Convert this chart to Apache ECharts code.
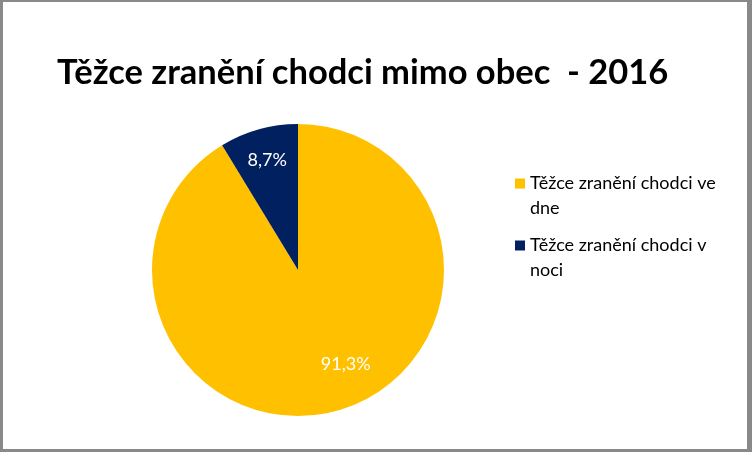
<!DOCTYPE html>
<html>
<head>
<meta charset="utf-8">
<script src="https://cdn.jsdelivr.net/npm/echarts@6/dist/echarts.min.js"></script>
<style>
  html, body { margin: 0; padding: 0; background: #fff; }
  #chart { position: absolute; left: 0; top: 0; width: 752px; height: 452px; }
  #frame { position: absolute; left: 0; top: 0; width: 752px; height: 452px; box-sizing: border-box;
           border-style: solid; border-color: #898989; border-width: 2px 5px 3px 3px; pointer-events: none; }
</style>
</head>
<body>
<div id="chart"></div>
<div id="frame"></div>
<script>
// data
var titleText = 'Těžce zranění chodci mimo obec  - 2016';
var categories = ['Těžce zranění chodci ve dne', 'Těžce zranění chodci v noci'];
var values = [91.3, 8.7];
var colors = ['#FFC000', '#002060'];

var pieData = [];
for (var i = 0; i < categories.length; i++) {
  pieData.push({ name: categories[i], value: values[i], itemStyle: { color: colors[i] } });
}

function pctLabel(p) {
  return p.percent.toFixed(1).replace('.', ',') + '%';
}

// wrap legend names before last word; leading blank line keeps the icon on line 1
function legendLabel(name) {
  var k = name.lastIndexOf(' ');
  return '\n' + name.slice(0, k) + '\n' + name.slice(k + 1);
}

var chart = echarts.init(document.getElementById('chart'), null, { renderer: 'canvas' });
chart.setOption({
  animation: false,
  title: {
    text: titleText,
    left: 57,
    top: 55,
    padding: 0,
    textStyle: { fontFamily: 'Lato', fontWeight: 'bold', fontSize: 34.5, color: '#000' }
  },
  legend: {
    orient: 'vertical',
    left: 515,
    top: 146,
    padding: 0,
    itemWidth: 10,
    itemHeight: 10,
    itemGap: -13,
    icon: 'rect',
    data: categories,
    formatter: legendLabel,
    textStyle: {
      fontFamily: 'Lato', fontSize: 18, color: '#000',
      lineHeight: 25
    }
  },
  series: [
    {
      type: 'pie',
      center: [298, 270],
      radius: 146,
      startAngle: 90,
      clockwise: true,
      data: pieData,
      label: { show: false },
      labelLine: { show: false },
      silent: true
    },
    {
      // label ring: same data, transparent, places labels at ~0.75 r
      type: 'pie',
      center: [298, 270],
      radius: [76, 146],
      startAngle: 90,
      clockwise: true,
      data: pieData.map(function (d, idx) {
        return {
          name: d.name, value: d.value,
          itemStyle: { color: 'rgba(0,0,0,0)' },
          label: idx === 0 ? { offset: [17, -16] } : {}
        };
      }),
      legendHoverLink: false,
      label: {
        show: true,
        position: 'inside',
        formatter: pctLabel,
        color: '#fff',
        fontFamily: 'Lato',
        fontSize: 18
      },
      labelLine: { show: false },
      silent: true
    }
  ]
});
</script>
</body>
</html>
